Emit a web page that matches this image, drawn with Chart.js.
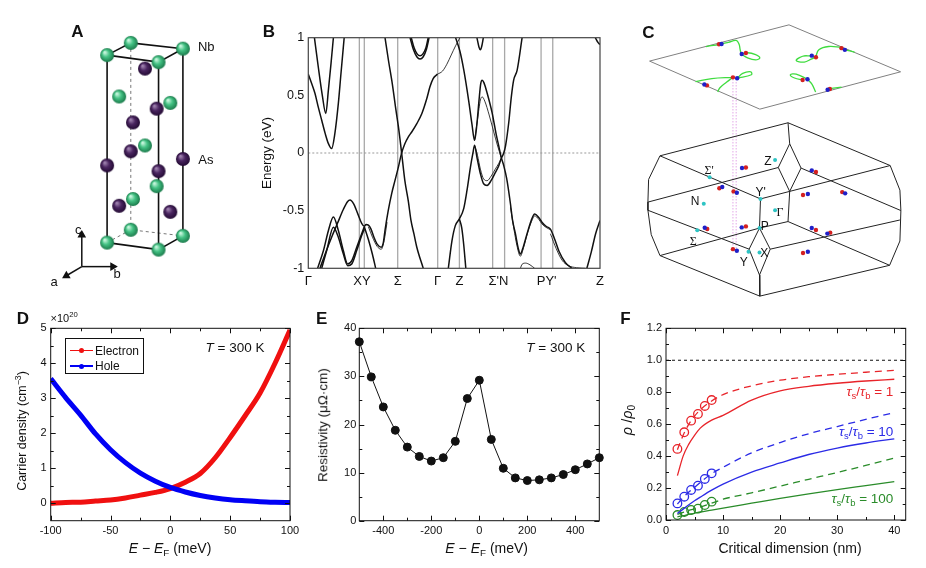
<!DOCTYPE html>
<html><head><meta charset="utf-8">
<script src="https://cdn.jsdelivr.net/npm/chart.js@4.4.1/dist/chart.umd.min.js"></script>
<style>
html,body{margin:0;padding:0;background:#fff;}
#wrap{position:relative;width:926px;height:568px;overflow:hidden;font-family:'Liberation Sans',Arial,Helvetica,sans-serif;color:#111;}
#wrap canvas{position:absolute;}
.t{position:absolute;white-space:nowrap;line-height:1;}
.t sub{font-size:70%;vertical-align:-0.3em;line-height:0;}
.t sup{font-size:70%;vertical-align:0.55em;line-height:0;}
.letter{font-family:'Liberation Sans Narrow','Liberation Sans',Arial,sans-serif;font-weight:bold;font-size:17px;}
.serif{font-family:'Liberation Serif','DejaVu Serif',serif;}
</style></head>
<body><div id="wrap"></div>
<script>
// ---------------- DATA ----------------
// Panel D: carrier density (x1e20 cm^-3) vs E - EF (meV)
const dEnergy   = [-100,-87.5,-75,-62.5,-50,-37.5,-25,-12.5,0,12.5,25,37.5,50,62.5,75,87.5,100];
const dElectron = [0.0,0.02,0.03,0.06,0.09,0.15,0.23,0.31,0.42,0.6,0.85,1.3,1.88,2.5,3.15,4.0,4.95];
const dHole     = [3.56,3.02,2.52,1.98,1.53,1.16,0.86,0.63,0.45,0.32,0.22,0.15,0.1,0.07,0.045,0.03,0.02];
const dXTicks = [-100,-50,0,50,100];
const dYTicks = [0,1,2,3,4,5];

// Panel E: resistivity (uOhm cm) vs E - EF (meV)
const eEnergy = [-500,-450,-400,-350,-300,-250,-200,-150,-100,-50,0,50,100,150,200,250,300,350,400,450,500];
const eResistivity = [37.2,29.9,23.65,18.8,15.3,13.36,12.4,13.1,16.5,25.4,29.2,16.9,10.9,8.9,8.35,8.5,8.9,9.6,10.6,11.8,13.1];
const eXTicks = [-400,-200,0,200,400];
const eYTicks = [0,10,20,30,40];

// Panel F: rho/rho0 vs critical dimension (nm)
const fSize = [2,3,4,5,6,8,10,15,20,25,30,35,40];
const fRatio1Solid    = [0.278,0.40,0.475,0.53,0.575,0.625,0.655,0.75,0.808,0.837,0.856,0.87,0.881];
const fRatio1Dashed   = [0.44,0.53,0.6,0.65,0.69,0.745,0.785,0.84,0.875,0.897,0.912,0.925,0.937];
const fRatio10Solid   = [0.04,0.068,0.095,0.12,0.143,0.187,0.225,0.3,0.357,0.41,0.45,0.482,0.508];
const fRatio10Dashed  = [0.10,0.14,0.175,0.205,0.235,0.29,0.33,0.42,0.485,0.54,0.585,0.63,0.672];
const fRatio100Solid  = [0.02,0.027,0.035,0.042,0.05,0.062,0.075,0.105,0.135,0.163,0.19,0.215,0.24];
const fRatio100Dashed = [0.035,0.048,0.06,0.07,0.08,0.105,0.13,0.17,0.212,0.255,0.297,0.342,0.388];
const fSimSize = [2,3.2,4.4,5.6,6.8,8];
const fSim1   = [0.445,0.549,0.622,0.664,0.714,0.751];
const fSim10  = [0.104,0.146,0.188,0.215,0.257,0.292];
const fSim100 = [0.031,0.05,0.063,0.071,0.094,0.115];
const fXTicks = [0,10,20,30,40];
const fYTicks = [0,0.2,0.4,0.6,0.8,1.0,1.2];

// Panel B: band structure, k along path (0..1), energy (eV)
const bLabelK = [0,0.184,0.3065,0.4436,0.518,0.652,0.817,1];
const bLabels = ['Γ','XY','Σ','Γ','Z',"Σ'N","PY'",'Z'];
const bSymK = [0.175,0.192,0.3065,0.4436,0.518,0.632,0.673,0.798,0.838];
const bYTicks = [-1,-0.5,0,0.5,1];
const bandV1 = [[0.021,1.0],[0.034,0.75],[0.048,0.5],[0.060,0.342],[0.069,0.55],[0.078,0.78],[0.086,1.0]];
const bandV2 = [[0,0.684],[0.0115,0.603],[0.023,0.516],[0.034,0.40],[0.046,0.284],[0.058,0.168],[0.069,0.081],[0.080,0.038],[0.091,0.168],[0.103,0.43],[0.112,0.69],[0.123,1.0]];
const bandMain = [[0.040,-1.0],[0.06,-0.86],[0.08,-0.73],[0.10,-0.61],[0.12,-0.49],[0.135,-0.42],[0.143,-0.408],[0.155,-0.44],[0.17,-0.53],[0.183,-0.61],[0.192,-0.635],[0.198,-0.62],[0.206,-0.625],[0.215,-0.66],[0.225,-0.73],[0.236,-0.79],[0.25,-0.817],[0.257,-0.78],[0.263,-0.67],[0.274,-0.50],[0.286,-0.35],[0.297,-0.24],[0.309,-0.12],[0.320,0.0],[0.331,0.08],[0.343,0.14],[0.354,0.18],[0.372,0.255],[0.389,0.34],[0.406,0.47],[0.417,0.574],[0.428,0.646],[0.443,0.684]];
const bandMainB = [[0.206,-0.64],[0.22,-0.73],[0.236,-0.81],[0.25,-0.835],[0.26,-0.76],[0.27,-0.6]];
const bandGZ = [[0.443,0.684],[0.46,0.71],[0.475,0.77],[0.49,0.85],[0.505,0.93],[0.52,1.0]];
const bandCone = [[0.263,1.0],[0.275,0.80],[0.288,0.60],[0.300,0.38],[0.309,0.226],[0.320,0.0],[0.331,-0.24],[0.343,-0.42],[0.352,-0.585],[0.362,-0.70],[0.372,-0.817],[0.394,-1.0]];
const bandU1 = [[0.349,1.0],[0.36,0.90],[0.372,0.835],[0.383,0.815],[0.394,0.835],[0.405,0.90],[0.414,1.0]];
const bandU2 = [[0.353,1.0],[0.363,0.91],[0.373,0.86],[0.383,0.843],[0.393,0.86],[0.403,0.91],[0.411,1.0]];
const bandL1 = [[0.032,-1.0],[0.052,-0.846],[0.069,-0.672],[0.086,-0.556],[0.103,-0.672],[0.12,-0.846],[0.135,-0.962],[0.149,-0.933],[0.166,-0.817],[0.183,-0.70],[0.192,-0.64]];
const bandL2 = [[0.046,-1.0],[0.063,-0.846],[0.086,-0.643],[0.103,-0.73],[0.12,-0.875],[0.135,-0.977],[0.149,-0.962],[0.166,-0.846],[0.183,-0.716],[0.192,-0.66]];
const bandL3 = [[0.192,-0.64],[0.206,-0.75],[0.220,-0.88],[0.231,-1.0]];
const bandZ = [[0.480,-1.0],[0.4926,-0.76],[0.504,-0.63],[0.518,-0.571],[0.533,-0.48],[0.544,-0.325],[0.556,-0.12],[0.564,-0.006],[0.570,0.067],[0.578,-0.035],[0.590,-0.18],[0.601,-0.267],[0.613,-0.281],[0.627,-0.238],[0.641,-0.17],[0.653,-0.11],[0.661,-0.05],[0.670,0.0],[0.676,0.06],[0.687,0.26],[0.696,0.487],[0.704,0.632],[0.716,0.719],[0.733,1.0]];
const bandZ2 = [[0.570,0.067],[0.580,-0.02],[0.590,-0.14],[0.601,-0.225],[0.613,-0.24],[0.627,-0.2],[0.641,-0.14],[0.653,-0.09],[0.661,-0.05]];
const bandZb = [[0.518,-0.571],[0.526,-0.65],[0.533,-0.8],[0.540,-1.0]];
const bandUpper = [[0.505,1.0],[0.52,0.88],[0.533,0.72],[0.55,0.45],[0.561,0.25],[0.570,0.11],[0.578,0.25],[0.585,0.45],[0.591,0.6],[0.596,0.632],[0.602,0.61],[0.613,0.52],[0.63,0.35],[0.645,0.15],[0.653,0.06],[0.661,-0.035],[0.670,-0.11],[0.680,-0.22],[0.693,-0.44],[0.700,-0.58],[0.710,-0.70],[0.720,-0.83],[0.727,-0.875],[0.735,-0.83],[0.750,-0.70],[0.765,-0.58],[0.776,-0.53],[0.79,-0.56],[0.801,-0.60],[0.815,-0.635],[0.830,-0.66],[0.845,-0.75],[0.859,-0.85],[0.881,-0.95],[0.904,-1.0]];
const bandUpper2 = [[0.570,0.11],[0.580,0.29],[0.590,0.46],[0.596,0.487],[0.605,0.45],[0.62,0.33],[0.635,0.19],[0.648,0.07],[0.661,-0.035]];
const bandUpper3 = [[0.693,-0.47],[0.705,-0.66],[0.715,-0.80],[0.727,-0.895],[0.738,-0.82],[0.752,-0.69],[0.765,-0.595],[0.776,-0.545],[0.79,-0.575],[0.801,-0.615],[0.815,-0.645],[0.830,-0.665]];
const bandBottom = [[0.727,-1.0],[0.733,-0.965],[0.745,-0.955],[0.76,-0.97],[0.776,-1.0]];
const bandTail = [[0.830,-0.70],[0.85,-0.83],[0.87,-0.93],[0.89,-0.975],[0.92,-0.995],[0.95,-1.0]];
const bandZend = [[0.955,-1.0],[0.97,-0.86],[0.985,-0.7],[1.0,-0.585]];
const bandZtop = [[0.984,1.0],[0.993,0.96],[1.0,0.94]];
const bandSmallU = [[0.578,1.0],[0.585,0.92],[0.590,0.895],[0.595,0.93],[0.600,1.0]];

// Panel A: crystal structure drawing (diagram units)
const aNb = [[90,23.3],[65,36],[145,29.3],[119.3,43.3],[77.7,79],[131.7,85.7],[105,130],[117.3,172.3],[92.3,185.7],[90,217.7],[65,231],[145,224],[119.3,238.3]];
const aAs = [[105,50],[117.3,91.7],[92.3,106],[90,136],[65,150.7],[145,144],[119.3,156.7],[77.7,192.7],[131.7,199]];
const aCellSolid = [[[65,36],[90,23.3],[145,29.3],[119.3,43.3],[65,36]],[[65,36],[65,231]],[[119.3,43.3],[119.3,238.3]],[[145,29.3],[145,224]],[[65,231],[119.3,238.3],[145,224]]];
const aCellDashed = [[[90,23.3],[90,217.7]],[[65,231],[90,217.7],[145,224]]];
const aAxes = [[[38.3,256],[38.3,223]],[[38.3,256],[71,256]],[[38.3,256],[22,265.5]]];
const aArrowRot = [0,90,240];

// Panel C: Brillouin zone drawing (diagram units)
const cPlane = [[16,43.3],[159.3,6],[274,54.3],[129.3,92.7],[16,43.3]];
const cArcs = [
 [[74,28.3],[88.3,26],[97,24],[105,22],[108,26],[109,31],[110,36]],
 [[110,36],[116.7,40],[125,42],[129.3,40],[125,36.7],[116.7,34.7],[110,36]],
 [[186.7,39.3],[180,38],[173.3,38.3],[166.7,42.7],[175,44.3],[182.7,41],[186.7,39.3]],
 [[186.7,39.3],[190,31.7],[200,28.3],[213.3,29.3]],
 [[216.7,31.7],[226.7,34]],
 [[63.3,64.3],[80,61.3],[101.7,60]],
 [[106,61],[111.7,56],[120,54.3],[120.7,57.3],[106,61]],
 [[101.7,60],[95,65],[88.3,70.7],[86,75]],
 [[173.3,62.7],[165,60.7],[160.7,57.3],[166.7,56.7],[178.3,62]],
 [[178.3,62],[182.7,66.7],[186.7,75]],
 [[201,71.7],[213.3,70]]
];
const cBody = [
 [[26.7,140.7],[15,165],[14.3,188.3],[14.3,196.7],[17.7,221.7],[26.7,243.3]],
 [[263.3,150.7],[273.3,176],[274.3,197],[273.3,228.3],[262.7,253.3]],
 [[26.7,140.7],[158.3,106.7],[263.3,150.7]],
 [[158.3,106.7],[160,128.3]],
 [[160,128.3],[148.3,152.7],[160,177.3],[171.7,153.3],[160,128.3]],
 [[26.7,140.7],[130,185],[129,215]],
 [[14.3,188.3],[148.3,152.7]],
 [[130,185],[263.3,150.7]],
 [[171.7,153.3],[274.3,197]],
 [[160,177.3],[158.3,208.3],[262.7,253.3]],
 [[129,215],[158.3,208.3]],
 [[14.3,196.7],[118.3,236.7]],
 [[26.7,243.3],[129,215]],
 [[129,215],[118.3,236.7],[129,263.3],[140,236.7],[129,215]],
 [[129,263.3],[129.3,285],[26.7,243.3]],
 [[140,236.7],[273.3,206.7]],
 [[262.7,253.3],[129.3,285]]
];
const cGuide = [[[101.7,61.7],[101.7,236.7]],[[105,61.7],[105,236.7]]];
const cSymPts = [[145,145],[77.7,162.7],[130,185],[71.7,190],[145,196.7],[129,215],[65,217.3],[117.7,239.3],[129,240]];
const cRed = [[115,152.7],[87.7,174],[102.3,177.3],[75.3,216],[115,213.3],[101.7,236.7],[187,157.3],[173.7,181],[214,178],[187,217],[201.7,219.7],[173.7,240.7],[87.3,26],[115,35],[187,39.3],[213.3,30],[101.7,60],[75,68.3],[173.3,62.7],[201.3,72]];
const cBlue = [[111,153.3],[90.7,172.7],[105.7,178.7],[72.7,214.7],[110.7,214.3],[105.7,238.3],[182.7,155.7],[178.7,180],[217,179.3],[182.7,215],[198.7,220.7],[178.7,239.3],[90,25.7],[110.7,36],[182.7,37.7],[216.7,31.7],[106,61],[72.3,67.3],[178.3,62],[199,72.7]];

// ---------------- SETUP ----------------
const wrap = document.getElementById('wrap');
Chart.defaults.font.family = "'Liberation Sans', Arial, Helvetica, sans-serif";
Chart.defaults.color = '#111';
Chart.defaults.animation = false;
Chart.defaults.plugins.legend.display = false;
Chart.defaults.plugins.tooltip.enabled = false;

const pts = a => a.map(p => ({x:p[0], y:p[1]}));
const xy = (xs, ys) => xs.map((x,i) => ({x, y:ys[i]}));

const frameTicks = {
  id:'frameTicks',
  afterDatasetsDraw(chart, args, o){
    if(!o || !o.on) return;
    const {ctx, chartArea:a, scales} = chart;
    ctx.save();
    ctx.strokeStyle = o.color || '#111'; ctx.lineWidth = o.lw || 1;
    ctx.beginPath();
    const L = o.len || 5, M = o.minorLen || 3;
    const xt = (vals, len) => (vals||[]).forEach(v => {
      const p = Math.round(scales.x.getPixelForValue(v)) + 0.5;
      ctx.moveTo(p, a.bottom); ctx.lineTo(p, a.bottom - len);
      ctx.moveTo(p, a.top); ctx.lineTo(p, a.top + len);
    });
    const yt = (vals, len) => (vals||[]).forEach(v => {
      const p = Math.round(scales.y.getPixelForValue(v)) + 0.5;
      ctx.moveTo(a.left, p); ctx.lineTo(a.left + len, p);
      ctx.moveTo(a.right, p); ctx.lineTo(a.right - len, p);
    });
    xt(o.xMajor, L); xt(o.xMinor, M); yt(o.yMajor, L); yt(o.yMinor, M);
    ctx.stroke();
    ctx.strokeRect(a.left, a.top, a.right - a.left, a.bottom - a.top);
    ctx.restore();
  }
};
Chart.register(frameTicks);

function mkCanvas(l,t,w,h){
  const c = document.createElement('canvas');
  c.width = w; c.height = h;
  c.style.left = l+'px'; c.style.top = t+'px'; c.style.width = w+'px'; c.style.height = h+'px';
  wrap.appendChild(c);
  return c;
}
// canvas rect + plot-area rect (page px) -> layout numbers
function frame(cv, area){
  return {c: mkCanvas(cv.l,cv.t,cv.w,cv.h), yW: area.l-cv.l, xH: cv.t+cv.h-area.b, pr: cv.l+cv.w-area.r, pt: area.t-cv.t};
}
function axes(f, x, y, tickFont, xPad, yPad){
  return {
    x: Object.assign({type:'linear', grid:{display:false, drawTicks:false}, border:{display:false},
        ticks:{font:{size:tickFont}, padding:xPad, color:'#111', autoSkip:false, maxRotation:0},
        afterFit: s => { s.height = f.xH; }}, x),
    y: Object.assign({type:'linear', grid:{display:false, drawTicks:false}, border:{display:false},
        ticks:{font:{size:tickFont}, padding:yPad, color:'#111'},
        afterFit: s => { s.width = f.yW; }}, y)
  };
}
const setTicks = vals => s => { s.ticks = vals.map(v => ({value:v})); };

function txt(html, x, y, o){
  o = o || {};
  const d = document.createElement('div');
  d.className = 't' + (o.cls ? ' '+o.cls : '');
  d.innerHTML = html;
  d.style.left = x+'px'; d.style.top = y+'px';
  if(o.size) d.style.fontSize = o.size+'px';
  if(o.color) d.style.color = o.color;
  const ax = o.anchor === 'l' ? '0' : o.anchor === 'r' ? '-100%' : '-50%';
  d.style.transform = 'translate('+ax+',-50%)' + (o.rot ? ' rotate(-90deg)' : '');
  wrap.appendChild(d);
  return d;
}

// ---------------- PANEL D ----------------
{
  const f = frame({l:0,t:300,w:310,h:268},{l:50.7,t:328.3,r:290,b:520.7});
  new Chart(f.c, {
    type:'scatter',
    data:{datasets:[
      {data:xy(dEnergy,dHole), showLine:true, borderColor:'#0000f5', borderWidth:5, pointRadius:0, cubicInterpolationMode:'monotone', order:0},
      {data:xy(dEnergy,dElectron), showLine:true, borderColor:'#f01010', borderWidth:5, pointRadius:0, cubicInterpolationMode:'monotone', order:1}
    ]},
    options:{responsive:false, layout:{padding:{left:0,right:f.pr,top:f.pt,bottom:0}},
      scales: axes(f,
        {min:-100,max:100, afterBuildTicks:setTicks(dXTicks)},
        {min:-0.5,max:5, afterBuildTicks:setTicks(dYTicks)}, 11, 4, 4),
      plugins:{frameTicks:{on:true, xMajor:dXTicks, xMinor:[-75,-25,25,75], yMajor:dYTicks, yMinor:[0.5,1.5,2.5,3.5,4.5]}}
    }
  });
}

// ---------------- PANEL E ----------------
{
  const f = frame({l:310,t:300,w:300,h:268},{l:359.3,t:328.3,r:599.3,b:520.7});
  new Chart(f.c, {
    type:'scatter',
    data:{datasets:[
      {data:xy(eEnergy,eResistivity), showLine:true, borderColor:'#111', borderWidth:1, pointRadius:4, pointBackgroundColor:'#111', pointBorderColor:'#111', clip:false}
    ]},
    options:{responsive:false, layout:{padding:{left:0,right:f.pr,top:f.pt,bottom:0}},
      scales: axes(f,
        {min:-500,max:500, afterBuildTicks:setTicks(eXTicks)},
        {min:0,max:40, afterBuildTicks:setTicks(eYTicks)}, 11, 4, 3),
      plugins:{frameTicks:{on:true, xMajor:eXTicks, xMinor:[-300,-100,100,300], yMajor:eYTicks, yMinor:[5,15,25,35]}}
    }
  });
}

// ---------------- PANEL F ----------------
{
  const f = frame({l:615,t:300,w:311,h:268},{l:666,t:328.3,r:905.7,b:520});
  const RED='#e8242a', BLUE='#2b2be6', GREEN='#2a8c2a';
  const line = (ys,color,dash) => ({data:xy(fSize,ys), showLine:true, borderColor:color, borderWidth:1.3, borderDash:dash||[], pointRadius:0, cubicInterpolationMode:'monotone'});
  const sim = (ys,color) => ({data:xy(fSimSize,ys), showLine:false, pointRadius:4.3, pointBorderWidth:1.3, pointBorderColor:color, pointBackgroundColor:'rgba(0,0,0,0)'});
  new Chart(f.c, {
    type:'scatter',
    data:{datasets:[
      {data:[{x:0,y:1},{x:42,y:1}], showLine:true, borderColor:'#111', borderWidth:1.2, borderDash:[3,3], pointRadius:0},
      line(fRatio1Solid,RED), line(fRatio1Dashed,RED,[7,5]),
      line(fRatio10Solid,BLUE), line(fRatio10Dashed,BLUE,[7,5]),
      line(fRatio100Solid,GREEN), line(fRatio100Dashed,GREEN,[7,5]),
      sim(fSim1,RED), sim(fSim10,BLUE), sim(fSim100,GREEN)
    ]},
    options:{responsive:false, layout:{padding:{left:0,right:f.pr,top:f.pt,bottom:0}},
      scales: axes(f,
        {min:0,max:42, afterBuildTicks:setTicks(fXTicks)},
        {min:0,max:1.2, afterBuildTicks:setTicks(fYTicks), ticks:{font:{size:11},padding:4,color:'#111',callback:v=>v.toFixed(1)}}, 11, 4, 4),
      plugins:{frameTicks:{on:true, xMajor:fXTicks, xMinor:[5,15,25,35], yMajor:fYTicks, yMinor:[0.1,0.3,0.5,0.7,0.9,1.1]}}
    }
  });
}

// ---------------- PANEL B ----------------
{
  const f = frame({l:255,t:15,w:355,h:285},{l:308.3,t:37.7,r:600,b:268.3});
  const thick = [bandV1,bandV2,bandMain,bandCone,bandU1,bandU2,bandL1,bandL2,bandL3,bandZ,bandZb,bandUpper,bandZend,bandZtop,bandSmallU];
  const thin = [bandMainB,bandGZ,bandZ2,bandUpper2,bandUpper3,bandBottom,bandTail];
  const ds = [];
  thick.forEach(b => ds.push({data:pts(b), showLine:true, borderColor:'#111', borderWidth:1.5, pointRadius:0, cubicInterpolationMode:'monotone', order:0}));
  thin.forEach(b => ds.push({data:pts(b), showLine:true, borderColor:'#222', borderWidth:0.9, pointRadius:0, cubicInterpolationMode:'monotone', order:0}));
  bSymK.forEach(k => ds.push({data:[{x:k,y:-1},{x:k,y:1}], showLine:true, borderColor:'#a8a8a8', borderWidth:1.3, pointRadius:0, order:5}));
  ds.push({data:[{x:0,y:0},{x:1,y:0}], showLine:true, borderColor:'#9a9a9a', borderWidth:1.2, borderDash:[2,2], pointRadius:0, order:4});
  new Chart(f.c, {
    type:'scatter',
    data:{datasets:ds},
    options:{responsive:false, layout:{padding:{left:0,right:f.pr,top:f.pt,bottom:0}},
      scales: axes(f,
        {min:0,max:1, afterBuildTicks:setTicks(bLabelK), ticks:{font:{size:13},padding:5,color:'#111',autoSkip:false,maxRotation:0,callback:(v,i)=>bLabels[i]}},
        {min:-1,max:1, afterBuildTicks:setTicks(bYTicks), ticks:{font:{size:12.5},padding:4,color:'#111',callback:v=>String(v)}}, 12, 5, 4),
      plugins:{frameTicks:{on:true, color:'#444', lw:1.2}}
    }
  });
}

// ---------------- PANEL A ----------------
function sphere(r, c1, c2, c3){
  const s = Math.ceil(r*2+2), cv = document.createElement('canvas');
  cv.width = s; cv.height = s;
  const g = cv.getContext('2d');
  const grd = g.createRadialGradient(s/2-r*0.35, s/2-r*0.4, r*0.1, s/2, s/2, r);
  grd.addColorStop(0,c1); grd.addColorStop(0.45,c2); grd.addColorStop(1,c3);
  g.fillStyle = grd; g.beginPath(); g.arc(s/2,s/2,r,0,Math.PI*2); g.fill();
  return cv;
}
{
  const c = mkCanvas(40,15,210,285);
  const ds = [];
  aCellSolid.forEach(p => ds.push({data:pts(p), showLine:true, borderColor:'#111', borderWidth:1.6, pointRadius:0, order:5, clip:false}));
  aCellDashed.forEach(p => ds.push({data:pts(p), showLine:true, borderColor:'#777', borderWidth:1, borderDash:[3,3], pointRadius:0, order:6, clip:false}));
  aAxes.forEach((p,i) => ds.push({data:pts(p), showLine:true, borderColor:'#111', borderWidth:1.5, pointStyle:'triangle', pointRadius:[0,3.5], pointRotation:[0,aArrowRot[i]], pointBackgroundColor:'#111', pointBorderColor:'#111', order:5, clip:false}));
  ds.push({data:pts(aAs), showLine:false, pointStyle:sphere(7,'#9d80ad','#4a2560','#230a33'), order:1, clip:false});
  ds.push({data:pts(aNb), showLine:false, pointStyle:sphere(7,'#c6f5dc','#44c284','#1b7a4b'), order:0, clip:false});
  new Chart(c, {type:'scatter', data:{datasets:ds},
    options:{responsive:false, layout:{padding:0},
      scales:{x:{display:false,min:0,max:210}, y:{display:false,min:0,max:285,reverse:true}}}});
}

// ---------------- PANEL C ----------------
{
  const c = mkCanvas(630,15,296,290);
  const ds = [];
  ds.push({data:pts(cPlane), showLine:true, borderColor:'#808080', borderWidth:1, pointRadius:0, order:6, clip:false});
  cArcs.forEach(p => ds.push({data:pts(p), showLine:true, borderColor:'#3fdc3f', borderWidth:1.3, pointRadius:0, tension:0.4, order:4, clip:false}));
  cBody.forEach(p => ds.push({data:pts(p), showLine:true, borderColor:'#222', borderWidth:1, pointRadius:0, order:6, clip:false}));
  cGuide.forEach(p => ds.push({data:pts(p), showLine:true, borderColor:'#e3a8e8', borderWidth:1, borderDash:[1.5,1.5], pointRadius:0, order:7, clip:false}));
  ds.push({data:pts(cSymPts), showLine:false, pointRadius:2, pointBorderWidth:0, pointBackgroundColor:'#2ec4c4', order:1, clip:false});
  ds.push({data:pts(cRed), showLine:false, pointRadius:2.2, pointBorderWidth:0, pointBackgroundColor:'#d42020', order:1, clip:false});
  ds.push({data:pts(cBlue), showLine:false, pointRadius:2.2, pointBorderWidth:0, pointBackgroundColor:'#2020c8', order:0, clip:false});
  new Chart(c, {type:'scatter', data:{datasets:ds},
    options:{responsive:false, layout:{padding:0},
      scales:{x:{display:false,min:0,max:296}, y:{display:false,min:0,max:290,reverse:true}}}});
}

// ---------------- TEXT ----------------
// panel letters
txt('A', 77.5, 31.3, {cls:'letter'});
txt('B', 269, 30.5, {cls:'letter'});
txt('C', 648.3, 31.5, {cls:'letter'});
txt('D', 22.8, 318.3, {cls:'letter'});
txt('E', 321.7, 318.3, {cls:'letter'});
txt('F', 625.5, 318.3, {cls:'letter'});
// A
txt('Nb', 206.2, 45.5, {size:13});
txt('As', 205.8, 159, {size:13});
txt('c', 78.3, 228.5, {size:13});
txt('b', 117, 273.2, {size:13});
txt('a', 54, 281, {size:13});
// B
txt('Energy (eV)', 267, 152.5, {size:13.5, rot:true});
// C
txt('Z', 768, 160.5, {size:12});
txt("Σ'", 709, 170, {size:12, cls:'serif'});
txt("Y'", 760.7, 191.7, {size:12});
txt('N', 695, 201, {size:12});
txt('Γ', 780, 211.7, {size:12, cls:'serif'});
txt('P', 764.7, 225.5, {size:12});
txt('Σ', 693.3, 240.7, {size:12, cls:'serif'});
txt('Y', 743.8, 262, {size:12});
txt('X', 764.2, 253.3, {size:12});
// D
txt('×10<sup>20</sup>', 50.5, 318, {size:11, anchor:'l'});
txt('<i>T</i> = 300 K', 235, 348.3, {size:13.5});
txt('Carrier density (cm<sup>−3</sup>)', 21.7, 431, {size:12.5, rot:true});
txt('<i>E</i> − <i>E</i><sub>F</sub> (meV)', 170, 548.3, {size:14});
{
  const lg = document.createElement('div');
  lg.style.cssText = 'position:absolute;left:65px;top:338px;width:79px;height:36px;border:1px solid #111;box-sizing:border-box;';
  wrap.appendChild(lg);
  [['#f01010',11.5,'Electron'],['#0000f5',27,'Hole']].forEach(r => {
    const ln = document.createElement('div');
    ln.style.cssText = 'position:absolute;left:4px;width:23px;height:1.5px;top:'+(r[1]-0.75)+'px;background:'+r[0]+';';
    lg.appendChild(ln);
    const dot = document.createElement('div');
    dot.style.cssText = 'position:absolute;left:13px;width:5px;height:5px;border-radius:50%;top:'+(r[1]-2.5)+'px;background:'+r[0]+';';
    lg.appendChild(dot);
    const tx = document.createElement('div');
    tx.className = 't';
    tx.style.cssText = 'left:29px;top:'+r[1]+'px;font-size:12px;transform:translate(0,-50%);';
    tx.textContent = r[2];
    lg.appendChild(tx);
  });
}
// E
txt('<i>T</i> = 300 K', 555.8, 347.5, {size:13.5});
txt('Resistivity (μΩ·cm)', 323.3, 425, {size:13.5, rot:true});
txt('<i>E</i> − <i>E</i><sub>F</sub> (meV)', 486.7, 548.3, {size:14});
// F
txt('<i>ρ</i> /<i>ρ</i><sub>0</sub>', 626.7, 420, {size:14.5, rot:true});
txt('Critical dimension (nm)', 790, 548.3, {size:14});
txt('<i>τ</i><sub>s</sub>/<i>τ</i><sub>b</sub> = 1', 893.3, 391.7, {size:13.5, anchor:'r', color:'#e8242a'});
txt('<i>τ</i><sub>s</sub>/<i>τ</i><sub>b</sub> = 10', 893.3, 431.7, {size:13.5, anchor:'r', color:'#2b2be6'});
txt('<i>τ</i><sub>s</sub>/<i>τ</i><sub>b</sub> = 100', 893.3, 499.3, {size:13.5, anchor:'r', color:'#2a8c2a'});
</script>
</body></html>
